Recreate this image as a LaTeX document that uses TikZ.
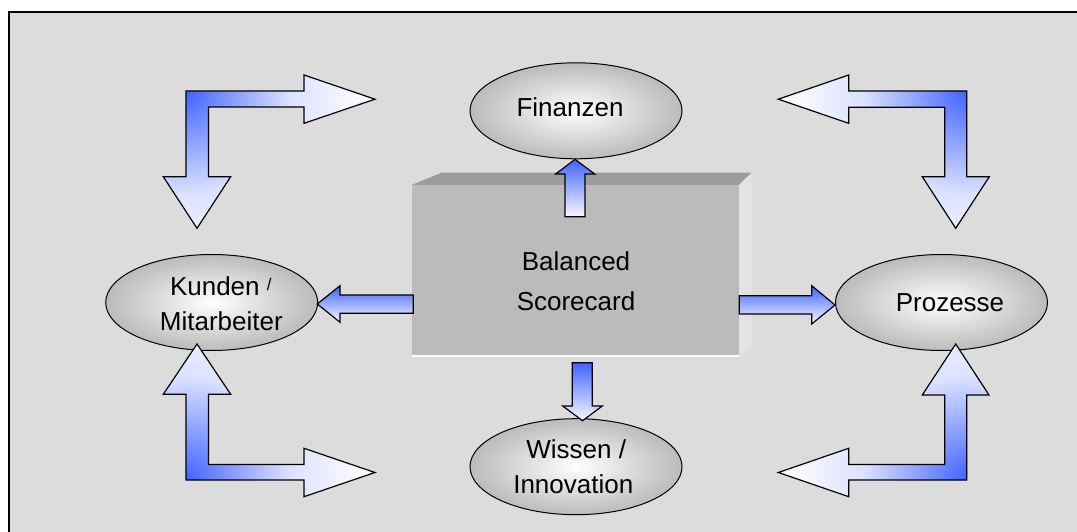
\documentclass[tikz,border=0pt]{standalone}
\usepackage{fontspec}
\setmainfont{Liberation Sans}
\usetikzlibrary{shapes.geometric}
\definecolor{bg}{HTML}{DCDCDC}
\definecolor{arrblue}{HTML}{3F63FF}
\definecolor{arrmid}{HTML}{95A8FF}
\definecolor{arrlight}{HTML}{DCE2FF}
\definecolor{arrwhite}{HTML}{F8F8FF}
\definecolor{boxfront}{HTML}{BBBBBB}
\definecolor{boxtop}{HTML}{9C9C9C}
\definecolor{boxside}{HTML}{E3E3E3}
\definecolor{ellout}{HTML}{BBBBBB}
\pgfdeclareradialshading{bentshade}{\pgfpoint{0bp}{0bp}}{color(0bp)=(arrblue); color(7bp)=(arrmid); color(13bp)=(arrlight); color(21bp)=(arrwhite); color(50bp)=(arrwhite)}
\tikzset{
  arrline/.style={draw=black, line width=1.2pt, line join=miter},
  smallarrow/.style={arrline, top color=arrblue, bottom color=arrwhite},
  ell/.style={ellipse, draw=black, line width=1pt, minimum width=212pt, minimum height=96pt, inner sep=0pt, inner color=white, outer color=ellout},
  lbl/.style={font=\fontsize{26}{36}\selectfont, inner sep=0pt, anchor=base}
}
\newcommand\mybentarrow[2]{%
  \fill[arrwhite] #2;
  \begin{scope}\clip #2; \shade[shading=bentshade] #1 circle (200pt);\end{scope}
  \draw[arrline] #2;}
\begin{document}
\begin{tikzpicture}[x=1pt,y=-1pt]
\useasboundingbox (0,0) rectangle (1077,532);
% frame
\fill[white] (0,0) rectangle (1077,532);
\fill[bg] (9,12) rectangle (1077,532);
\draw[line width=2pt] (9,532) -- (9,12) -- (1077,12);
% central box
\node[rectangle, fill=boxfront, minimum width=326.7pt, minimum height=171.7pt, inner sep=0pt] (bsc) at (575.65,270.85) {};
\fill[boxtop] (bsc.north west) -- (441.7,172.7) -- (751.7,172.7) -- (bsc.north east) -- cycle;
\fill[boxside] (bsc.north east) -- (751.7,172.7) -- (751.7,346.7) -- (bsc.south east) -- cycle;
\draw[white, line width=1.5pt] ([yshift=0.8pt]bsc.south west) -- ([yshift=0.8pt]bsc.south east);
% ellipses
\node[ell] (fin) at (576,110.8) {};
\node[ell] (kun) at (211.7,302.5) {};
\node[ell] (pro) at (941.5,302.5) {};
\node[ell] (wis) at (576,466.7) {};
% labels
\node[lbl] (fint) at (570,116.7) {Finanzen};
\node[lbl] (bal1) at (576,270.7) {Balanced};
\node[lbl] (bal2) at (576,310) {Scorecard};
\node[lbl] (kun1) at (220.8,295) {Kunden \raisebox{4.5pt}{\fontsize{17}{17}\selectfont /}};
\node[lbl] (kun2) at (221.3,330) {Mitarbeiter};
\node[lbl] (prot) at (950,311.7) {Prozesse};
\node[lbl] (wis1) at (576.2,458.3) {Wissen /};
\node[lbl] (wis2) at (573.3,493.3) {Innovation};
% small block arrows
\path[smallarrow] (565,216.7) -- (565,174) -- (555.7,174) -- (575,159.3) -- (594.7,174) -- (585,174) -- (585,216.7) -- cycle;
\path[smallarrow] (572.3,362.7) -- (592.3,362.7) -- (592.3,406) -- (602.3,406) -- (582.5,420.7) -- (562.7,406) -- (572.3,406) -- cycle;
\path[smallarrow] (413.3,295) -- (340,295) -- (340,285.7) -- (317.3,304) -- (340,322.3) -- (340,313.3) -- (413.3,313.3) -- cycle;
\path[smallarrow] (739.3,295.7) -- (811.7,295.7) -- (811.7,285.7) -- (835,305) -- (811.7,324) -- (811.7,314) -- (739.3,314) -- cycle;
% bent arrows
\mybentarrow{(186,91)}{(186,91) -- (304,91) -- (304,75) -- (375,99.2) -- (304,123.3) -- (304,107) -- (208.5,107) -- (208.5,176.7) -- (230.7,176.7) -- (197,228.3) -- (163.3,176.7) -- (186,176.7) -- cycle}
\mybentarrow{(186,480)}{(186,480) -- (186,394.3) -- (163.3,394.3) -- (197,344) -- (230.7,394.3) -- (208.5,394.3) -- (208.5,464.5) -- (304,464.5) -- (304,448.3) -- (375,472.5) -- (304,496.7) -- (304,480) -- cycle}
\mybentarrow{(966.7,91)}{(966.7,91) -- (966.7,176.7) -- (989.3,176.7) -- (955.7,228.3) -- (922.3,176.7) -- (944.7,176.7) -- (944.7,107.3) -- (848.7,107.3) -- (848.7,123.3) -- (778.3,99.2) -- (848.7,75) -- (848.7,91) -- cycle}
\mybentarrow{(966.7,480)}{(966.7,480) -- (848.7,480) -- (848.7,496.7) -- (778.3,472.5) -- (848.7,448.3) -- (848.7,464.5) -- (944.7,464.5) -- (944.7,395) -- (922.3,395) -- (955.7,344) -- (989,395) -- (966.7,395) -- cycle}
\end{tikzpicture}
\end{document}
